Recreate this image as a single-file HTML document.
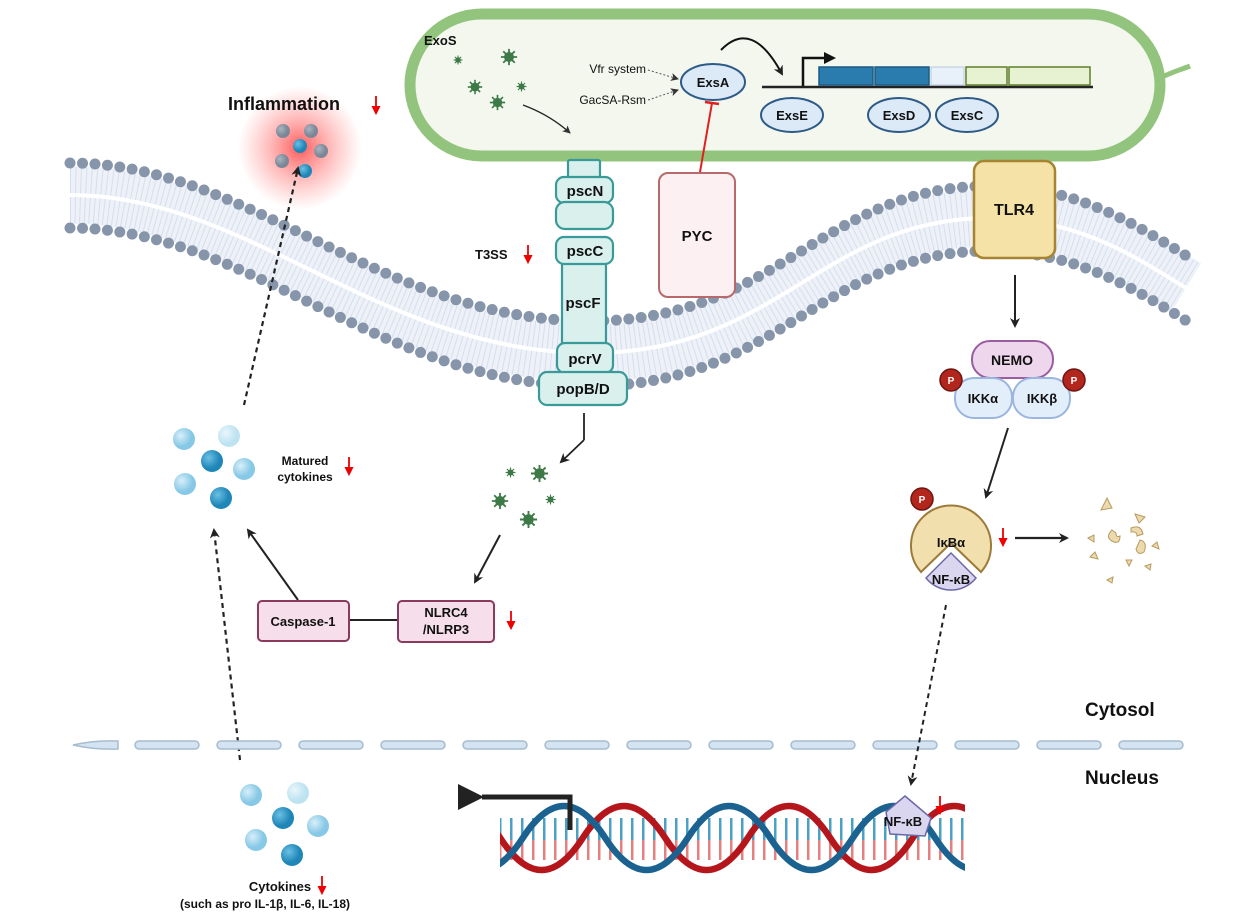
<!DOCTYPE html>
<html><head><meta charset="utf-8"><style>
html,body{margin:0;padding:0;background:#fff;}
svg{display:block;}
text{font-family:"Liberation Sans",sans-serif;font-weight:bold;fill:#111;}
</style></head><body>
<svg width="1250" height="924" viewBox="0 0 1250 924" xmlns="http://www.w3.org/2000/svg">
<defs>
<radialGradient id="glow"><stop offset="0" stop-color="#ff3b3b" stop-opacity="0.85"/><stop offset="0.5" stop-color="#ff6b6b" stop-opacity="0.45"/><stop offset="1" stop-color="#ff8080" stop-opacity="0"/></radialGradient>
<radialGradient id="sl" cx="0.35" cy="0.35"><stop offset="0" stop-color="#d8eff9"/><stop offset="1" stop-color="#86c8e6"/></radialGradient>
<radialGradient id="sp" cx="0.35" cy="0.35"><stop offset="0" stop-color="#eaf6fb"/><stop offset="1" stop-color="#bde3f1"/></radialGradient>
<radialGradient id="sd" cx="0.35" cy="0.35"><stop offset="0" stop-color="#6cc0e4"/><stop offset="1" stop-color="#1f86b8"/></radialGradient>
<radialGradient id="sg" cx="0.35" cy="0.35"><stop offset="0" stop-color="#aab3c0"/><stop offset="1" stop-color="#7b8797"/></radialGradient>
<marker id="ah" markerWidth="10" markerHeight="10" refX="8" refY="5" orient="auto" markerUnits="userSpaceOnUse"><path d="M0,0 L10,5 L0,10 L3,5 Z" fill="#222"/></marker>
<marker id="ahs" markerWidth="8" markerHeight="8" refX="7" refY="4" orient="auto" markerUnits="userSpaceOnUse"><path d="M0,0 L8,4 L0,8 L2,4 Z" fill="#333"/></marker>
<marker id="ahb" markerWidth="26" markerHeight="26" refX="2" refY="13" orient="auto" markerUnits="userSpaceOnUse"><path d="M26,0 L0,13 L26,26 Z" fill="#222"/></marker>
<symbol id="vir" viewBox="-10 -10 20 20"><g stroke="#3d7a47" stroke-width="2"><line x1="-9" y1="0" x2="9" y2="0"/><line x1="0" y1="-9" x2="0" y2="9"/><line x1="-6.4" y1="-6.4" x2="6.4" y2="6.4"/><line x1="-6.4" y1="6.4" x2="6.4" y2="-6.4"/></g><circle r="5.5" fill="#3d7a47"/></symbol>
<symbol id="redarr" viewBox="0 0 10 22"><line x1="5" y1="0" x2="5" y2="13" stroke="#e00" stroke-width="2"/><path d="M0,11 L10,11 L5,21 Z" fill="#e00"/></symbol>
<pattern id="bp" width="11" height="60" patternUnits="userSpaceOnUse"><rect x="4" y="0" width="2.5" height="20" fill="#e06a6a"/><rect x="4" y="20" width="2.5" height="40" fill="#2a90b8"/></pattern>
<clipPath id="dnaclip"><rect x="500" y="790" width="465" height="100"/></clipPath>
</defs>

<!-- bacterium -->
<path d="M1160,78 C1172,72 1180,70 1190,66" stroke="#93c47d" stroke-width="5" fill="none"/>
<rect x="410" y="14" width="750" height="142" rx="72" fill="#f3f7ee" stroke="#93c47d" stroke-width="11"/>
<text x="424" y="45" font-size="13">ExoS</text>
<use href="#vir" x="453" y="55" width="10" height="10"/>
<use href="#vir" x="500" y="48" width="18" height="18"/>
<use href="#vir" x="467" y="79" width="16" height="16"/>
<use href="#vir" x="516" y="81" width="11" height="11"/>
<use href="#vir" x="489" y="94" width="17" height="17"/>
<path d="M523,105 Q550,115 570,133" stroke="#222" stroke-width="1.3" fill="none" marker-end="url(#ahs)"/>
<text x="646" y="73" font-size="12" text-anchor="end" style="font-weight:normal">Vfr system</text>
<text x="646" y="104" font-size="12" text-anchor="end" style="font-weight:normal">GacSA-Rsm</text>
<path d="M648,70 L678,79" stroke="#555" stroke-width="1" stroke-dasharray="2,2" fill="none" marker-end="url(#ahs)"/>
<path d="M648,100 L678,90" stroke="#555" stroke-width="1" stroke-dasharray="2,2" fill="none" marker-end="url(#ahs)"/>
<ellipse cx="713" cy="82" rx="32" ry="18" fill="#dce9f7" stroke="#2e5a87" stroke-width="2"/>
<text x="713" y="87" font-size="13" text-anchor="middle">ExsA</text>
<path d="M721,50 Q752,18 782,74" stroke="#111" stroke-width="2" fill="none" marker-end="url(#ah)"/>
<line x1="762" y1="87" x2="1093" y2="87" stroke="#222" stroke-width="2.5"/>
<path d="M803,86 L803,58 L826,58" stroke="#111" stroke-width="2.5" fill="none"/>
<path d="M824,52 L836,58 L824,64 Z" fill="#111"/>
<rect x="819" y="67" width="54" height="18" fill="#2a7bae" stroke="#1d5a84" stroke-width="1.5"/>
<rect x="875" y="67" width="54" height="18" fill="#2a7bae" stroke="#1d5a84" stroke-width="1.5"/>
<rect x="931" y="67" width="33" height="18" fill="#e8f0fa" stroke="#b8c8dc" stroke-width="1"/>
<rect x="966" y="67" width="41" height="18" fill="#e6f2d2" stroke="#5e7f2a" stroke-width="1.5"/>
<rect x="1009" y="67" width="81" height="18" fill="#e6f2d2" stroke="#5e7f2a" stroke-width="1.5"/>
<ellipse cx="792" cy="115" rx="31" ry="17" fill="#dce9f7" stroke="#2e5a87" stroke-width="2"/>
<text x="792" y="120" font-size="13" text-anchor="middle">ExsE</text>
<ellipse cx="899" cy="115" rx="31" ry="17" fill="#dce9f7" stroke="#2e5a87" stroke-width="2"/>
<text x="899" y="120" font-size="13" text-anchor="middle">ExsD</text>
<ellipse cx="967" cy="115" rx="31" ry="17" fill="#dce9f7" stroke="#2e5a87" stroke-width="2"/>
<text x="967" y="120" font-size="13" text-anchor="middle">ExsC</text>

<!-- membrane -->
<g fill="none">
<path d="M70,195 C250,195 380,353 590,353 C780,353 820,218 990,218 C1080,218 1140,260 1186,288" stroke="#eef2f8" stroke-width="58"/>
<path d="M70,195 C250,195 380,353 590,353 C780,353 820,218 990,218 C1080,218 1140,260 1186,288" stroke="#b7c5df" stroke-width="56" stroke-dasharray="1 4" opacity="0.45"/>
<path d="M70,195 C250,195 380,353 590,353 C780,353 820,218 990,218 C1080,218 1140,260 1186,288" stroke="#fff" stroke-width="4"/>
<path transform="translate(0,-32)" d="M70,195 C250,195 380,353 590,353 C780,353 820,218 990,218 C1080,218 1140,260 1190,290" stroke="#8795ab" stroke-width="11" stroke-linecap="round" stroke-dasharray="0 12.5"/>
<path transform="translate(0,33)" d="M70,195 C250,195 380,353 590,353 C780,353 820,218 990,218 C1080,218 1140,260 1190,290" stroke="#8795ab" stroke-width="11" stroke-linecap="round" stroke-dasharray="0 12.5"/>
</g>

<!-- inflammation -->
<circle cx="300" cy="148" r="62" fill="url(#glow)"/>
<circle cx="283" cy="131" r="7" fill="url(#sg)"/><circle cx="311" cy="131" r="7" fill="url(#sg)"/>
<circle cx="300" cy="146" r="7" fill="url(#sd)"/><circle cx="321" cy="151" r="7" fill="url(#sg)"/>
<circle cx="282" cy="161" r="7" fill="url(#sg)"/><circle cx="305" cy="171" r="7" fill="url(#sd)"/>
<text x="228" y="110" font-size="18">Inflammation</text>
<use href="#redarr" x="371" y="96" width="10" height="20"/>
<line x1="244" y1="405" x2="298" y2="168" stroke="#222" stroke-width="2.2" stroke-dasharray="5,4" marker-end="url(#ah)"/>

<!-- T3SS -->
<text x="475" y="259" font-size="13">T3SS</text>
<use href="#redarr" x="523" y="245" width="10" height="20"/>
<g fill="#d9f0ec" stroke="#3a9a99" stroke-width="2.2">
<rect x="568" y="160" width="32" height="18" rx="2"/>
<rect x="562" y="263" width="44" height="82" rx="2"/>
<rect x="556" y="177" width="57" height="26" rx="8"/>
<rect x="556" y="202" width="57" height="27" rx="9"/>
<rect x="556" y="237" width="57" height="27" rx="8"/>
<rect x="557" y="343" width="56" height="30" rx="8"/>
<rect x="539" y="372" width="88" height="33" rx="8"/>
</g>
<g font-size="15" text-anchor="middle">
<text x="585" y="196">pscN</text><text x="585" y="256">pscC</text><text x="583" y="308">pscF</text>
<text x="585" y="364">pcrV</text><text x="583" y="394">popB/D</text>
</g>

<!-- PYC -->
<line x1="700" y1="172" x2="712" y2="103" stroke="#e02020" stroke-width="2"/>
<line x1="705" y1="102" x2="719" y2="104" stroke="#e02020" stroke-width="2.5"/>
<rect x="659" y="173" width="76" height="124" rx="9" fill="#fdf0f2" stroke="#b86a6a" stroke-width="2"/>
<text x="697" y="241" font-size="15" text-anchor="middle">PYC</text>

<!-- TLR4 -->
<rect x="974" y="161" width="81" height="97" rx="10" fill="#f4e2a6" stroke="#a78432" stroke-width="2.5"/>
<text x="1014" y="215" font-size="16" text-anchor="middle">TLR4</text>
<line x1="1015" y1="275" x2="1015" y2="326" stroke="#222" stroke-width="2" marker-end="url(#ah)"/>
<rect x="972" y="341" width="81" height="37" rx="18" fill="#eed6ec" stroke="#9a5ea0" stroke-width="2"/>
<text x="1012" y="365" font-size="14" text-anchor="middle">NEMO</text>
<rect x="955" y="378" width="57" height="40" rx="19" fill="#e3eefb" stroke="#9ab6de" stroke-width="2"/>
<rect x="1013" y="378" width="57" height="40" rx="19" fill="#e3eefb" stroke="#9ab6de" stroke-width="2"/>
<text x="983" y="403" font-size="13" text-anchor="middle">IKKα</text>
<text x="1042" y="403" font-size="13" text-anchor="middle">IKKβ</text>
<circle cx="951" cy="380" r="11" fill="#b3261e" stroke="#6d1510" stroke-width="1.5"/>
<text x="951" y="384" font-size="10" text-anchor="middle" style="fill:#fff">P</text>
<circle cx="1074" cy="380" r="11" fill="#b3261e" stroke="#6d1510" stroke-width="1.5"/>
<text x="1074" y="384" font-size="10" text-anchor="middle" style="fill:#fff">P</text>
<line x1="1008" y1="428" x2="986" y2="497" stroke="#222" stroke-width="2" marker-end="url(#ah)"/>

<!-- IkBa -->
<path d="M951,543 L981,572 A40,40 0 1 0 921,572 Z" fill="#f1e0ae" stroke="#9c7a3a" stroke-width="2"/>
<path d="M951,553 L976,578 A32,32 0 0 1 926,578 Z" fill="#dad6ef" stroke="#6c68a8" stroke-width="1.5"/>
<text x="951" y="547" font-size="13" text-anchor="middle">IκBα</text>
<text x="951" y="584" font-size="13" text-anchor="middle">NF-κB</text>
<circle cx="922" cy="499" r="11" fill="#b3261e" stroke="#6d1510" stroke-width="1.5"/>
<text x="922" y="503" font-size="10" text-anchor="middle" style="fill:#fff">P</text>
<use href="#redarr" x="998" y="528" width="10" height="20"/>
<line x1="1015" y1="538" x2="1067" y2="538" stroke="#222" stroke-width="2.2" marker-end="url(#ah)"/>
<g fill="#ecd9ad" stroke="#b79b60" stroke-width="1">
<path d="M1101,510 l6,-12 l5,10 z"/><path d="M1135,514 l10,3 l-6,6 z"/>
<path d="M1112,530 q-8,8 2,12 q6,2 6,-6 q-4,2 -4,-3 z"/><path d="M1131,528 q10,-4 12,6 l-6,2 q0,-5 -6,-4 z"/>
<path d="M1140,540 q8,2 4,12 q-6,4 -8,-3 z"/><path d="M1088,538 l6,-3 l0,7 z"/><path d="M1152,546 l5,-4 l2,7 z"/>
<path d="M1090,557 l5,-5 l3,7 z"/><path d="M1126,560 l6,0 l-3,6 z"/><path d="M1145,566 l6,-2 l-1,6 z"/><path d="M1107,580 l6,-3 l-1,6 z"/>
</g>

<!-- viruses mid -->
<line x1="584" y1="413" x2="584" y2="440" stroke="#222" stroke-width="1.8"/>
<line x1="584" y1="440" x2="561" y2="462" stroke="#222" stroke-width="1.8" marker-end="url(#ah)"/>
<use href="#vir" x="505" y="467" width="11" height="11"/>
<use href="#vir" x="530" y="464" width="19" height="19"/>
<use href="#vir" x="491" y="492" width="18" height="18"/>
<use href="#vir" x="545" y="494" width="11" height="11"/>
<use href="#vir" x="519" y="510" width="19" height="19"/>
<line x1="500" y1="535" x2="475" y2="582" stroke="#222" stroke-width="2" marker-end="url(#ah)"/>

<!-- matured cytokines -->
<circle cx="184" cy="439" r="11" fill="url(#sl)"/><circle cx="229" cy="436" r="11" fill="url(#sp)"/>
<circle cx="212" cy="461" r="11" fill="url(#sd)"/><circle cx="244" cy="469" r="11" fill="url(#sl)"/>
<circle cx="185" cy="484" r="11" fill="url(#sl)"/><circle cx="221" cy="498" r="11" fill="url(#sd)"/>
<text x="305" y="465" font-size="12" text-anchor="middle">Matured</text>
<text x="305" y="481" font-size="12" text-anchor="middle">cytokines</text>
<use href="#redarr" x="344" y="457" width="10" height="20"/>

<!-- caspase / NLRC4 -->
<line x1="298" y1="600" x2="248" y2="530" stroke="#222" stroke-width="2" marker-end="url(#ah)"/>
<line x1="240" y1="760" x2="214" y2="530" stroke="#222" stroke-width="2.2" stroke-dasharray="5,4" marker-end="url(#ah)"/>
<line x1="349" y1="620" x2="398" y2="620" stroke="#222" stroke-width="2"/>
<rect x="258" y="601" width="91" height="40" rx="4" fill="#f6dfea" stroke="#8b3a5e" stroke-width="2"/>
<text x="303" y="626" font-size="13" text-anchor="middle">Caspase-1</text>
<rect x="398" y="601" width="96" height="41" rx="4" fill="#f6dfea" stroke="#8b3a5e" stroke-width="2"/>
<text x="446" y="617" font-size="13" text-anchor="middle">NLRC4</text>
<text x="446" y="634" font-size="13" text-anchor="middle">/NLRP3</text>
<use href="#redarr" x="506" y="611" width="10" height="20"/>

<!-- nuclear envelope -->
<g fill="#d4e3f1" stroke="#a7bccf" stroke-width="1.5">
<path d="M73,745 Q95,740 118,741 L118,749 Q95,750 73,745 Z"/>
<rect x="135" y="741" width="64" height="8" rx="4"/><rect x="217" y="741" width="64" height="8" rx="4"/>
<rect x="299" y="741" width="64" height="8" rx="4"/><rect x="381" y="741" width="64" height="8" rx="4"/>
<rect x="463" y="741" width="64" height="8" rx="4"/><rect x="545" y="741" width="64" height="8" rx="4"/>
<rect x="627" y="741" width="64" height="8" rx="4"/><rect x="709" y="741" width="64" height="8" rx="4"/>
<rect x="791" y="741" width="64" height="8" rx="4"/><rect x="873" y="741" width="64" height="8" rx="4"/>
<rect x="955" y="741" width="64" height="8" rx="4"/><rect x="1037" y="741" width="64" height="8" rx="4"/>
<rect x="1119" y="741" width="64" height="8" rx="4"/>
</g>
<text x="1085" y="716" font-size="19">Cytosol</text>
<text x="1085" y="784" font-size="19">Nucleus</text>
<line x1="946" y1="605" x2="911" y2="784" stroke="#222" stroke-width="2" stroke-dasharray="5,4" marker-end="url(#ah)"/>

<!-- DNA -->
<g clip-path="url(#dnaclip)">
<rect x="500" y="818" width="465" height="42" fill="url(#bp)" opacity="0.85"/>
<path d="M335.25,838 Q376.5,902 417.75,838 T500.25,838 T582.75,838 T665.25,838 T747.75,838 T830.25,838 T912.75,838 T995.25,838" stroke="#b5161c" stroke-width="6.5" fill="none"/>
<path d="M440.25,838 Q481.5,902 522.75,838 T605.25,838 T687.75,838 T770.25,838 T852.75,838 T935.25,838 T1017.75,838" stroke="#1b6290" stroke-width="6.5" fill="none"/>
</g>
<path d="M570,830 L570,797 L482,797" stroke="#222" stroke-width="5" fill="none" marker-end="url(#ahb)"/>
<path d="M905,796 L931,818 L925,836 L890,834 L886,812 Z" fill="#dad6ef" stroke="#6c68a8" stroke-width="1.5"/>
<text x="903" y="826" font-size="13" text-anchor="middle">NF-κB</text>
<use href="#redarr" x="935" y="796" width="10" height="20"/>

<!-- cytokines bottom -->
<circle cx="251" cy="795" r="11" fill="url(#sl)"/><circle cx="298" cy="793" r="11" fill="url(#sp)"/>
<circle cx="283" cy="818" r="11" fill="url(#sd)"/><circle cx="318" cy="826" r="11" fill="url(#sl)"/>
<circle cx="256" cy="840" r="11" fill="url(#sl)"/><circle cx="292" cy="855" r="11" fill="url(#sd)"/>
<text x="280" y="891" font-size="13" text-anchor="middle">Cytokines</text>
<use href="#redarr" x="317" y="876" width="10" height="20"/>
<text x="265" y="908" font-size="12" text-anchor="middle">(such as pro IL-1β, IL-6, IL-18)</text>
</svg>
</body></html>
